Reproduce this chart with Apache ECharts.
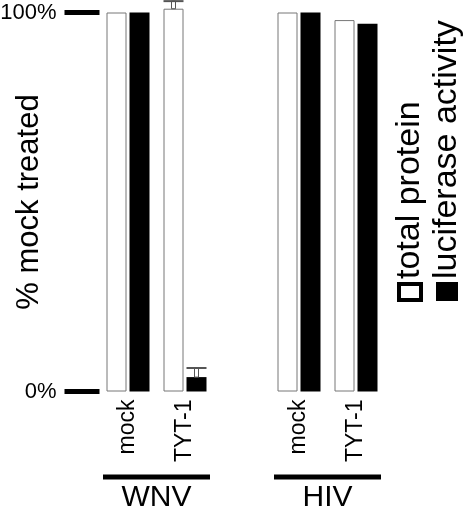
<!DOCTYPE html>
<html><head><meta charset="utf-8">
<script src="https://cdn.jsdelivr.net/npm/echarts@6/dist/echarts.min.js"></script>
<style>html,body{margin:0;padding:0;background:#fff}#c{width:466px;height:512px}</style>
</head><body><div id="c"></div>
<script>
// ---- data ----
var categories = ['mock', 'TYT-1', '', 'mock', 'TYT-1'];
var groupNames = ['WNV', 'HIV'];
var groupMembers = [[0, 1], [3, 4]];
var seriesNames = ['total protein', 'luciferase activity'];
var totalProtein = [100, 101, null, 100, 98];
var luciferase = [100, 3.8, null, 100, 97];
var totalProteinErrTop = [null, 103, null, null, null];
var luciferaseErrTop = [null, 6.2, null, null, null];
var yTickLabels = {0: '0%', 100: '100%'};
var yTitle = '% mock treated';

var FONT = 'Liberation Sans, Arial, Helvetica, sans-serif';
var BAR_W = 20, BAR_GAP = 3;

var chart = echarts.init(document.getElementById('c'), null, {renderer: 'canvas'});

function errSeries(errData, valData, side, col) {
  return {
    type: 'custom',
    clip: false,
    z: 5,
    data: errData.map(function (e, i) { return e == null ? null : [i, valData[i], e]; }).filter(function (d) { return d; }),
    renderItem: function (params, api) {
      var x = api.value(0);
      var pBar = api.coord([x, api.value(1)]);
      var pTop = api.coord([x, api.value(2)]);
      var cx = pBar[0] + side * (BAR_W + BAR_GAP) / 2;
      return {
        type: 'group',
        children: [
          {type: 'rect', shape: {x: cx - 2, y: pTop[1], width: 4, height: pBar[1] - pTop[1]},
           style: {fill: '#fff', stroke: col, lineWidth: 1}},
          {type: 'rect', shape: {x: cx - BAR_W / 2, y: pTop[1] - 1, width: BAR_W, height: 2},
           style: {fill: col}}
        ]
      };
    }
  };
}

var option = {
  animation: false,
  backgroundColor: '#fff',
  grid: {left: 99.5, top: 12.5, width: 285, height: 379, containLabel: false, outerBoundsMode: 'none'},
  xAxis: {
    type: 'category',
    data: categories,
    axisLine: {show: false},
    axisTick: {show: false},
    axisLabel: {rotate: 90, margin: 8, fontSize: 23, color: '#000', fontFamily: FONT}
  },
  yAxis: {
    type: 'value',
    min: 0, max: 100, interval: 100,
    splitLine: {show: false},
    axisLine: {show: false},
    axisTick: {show: true, length: 35, lineStyle: {color: '#000', width: 5}},
    axisLabel: {margin: 43, fontSize: 22, color: '#000', fontFamily: FONT,
      formatter: function (v) { return yTickLabels[v] || ''; }},
    name: yTitle,
    nameLocation: 'middle',
    nameRotate: 90,
    nameGap: 55,
    nameMoveOverlap: false,
    nameTextStyle: {fontSize: 31, color: '#000', fontFamily: FONT}
  },
  series: [
    {name: seriesNames[0], type: 'bar', data: totalProtein, barWidth: BAR_W, barGap: (BAR_GAP / BAR_W * 100) + '%',
     clip: false, itemStyle: {color: '#fff', borderColor: '#777', borderWidth: 1}},
    {name: seriesNames[1], type: 'bar', data: luciferase, barWidth: BAR_W,
     clip: false, itemStyle: {color: '#000'}},
    errSeries(totalProteinErrTop, totalProtein, -1, '#555'),
    errSeries(luciferaseErrTop, luciferase, 1, '#555')
  ]
};
chart.setOption(option);

// group brackets and legend
var graphics = [];
groupMembers.forEach(function (m, gi) {
  var a = chart.convertToPixel({xAxisIndex: 0}, m[0]);
  var b = chart.convertToPixel({xAxisIndex: 0}, m[m.length - 1]);
  var half = 57 / 2;
  var x0 = a - half + 3.5, x1 = b + half - 3.5;
  graphics.push({type: 'rect', shape: {x: x0, y: 474.5, width: x1 - x0, height: 5}, style: {fill: '#000'}});
  graphics.push({type: 'text', x: (x0 + x1) / 2, y: 498,
    style: {text: groupNames[gi], fontSize: 30, fontFamily: FONT, fill: '#000', align: 'center', verticalAlign: 'middle'}});
});
// legend
var legendX = [410, 447];
seriesNames.forEach(function (n, i) {
  if (i === 0) {
    graphics.push({type: 'rect', shape: {x: 399, y: 284, width: 22, height: 16}, style: {fill: '#fff', stroke: '#000', lineWidth: 4}});
  } else {
    graphics.push({type: 'rect', shape: {x: 436, y: 282, width: 22, height: 19}, style: {fill: '#000'}});
  }
  graphics.push({type: 'text', x: legendX[i], y: 279, rotation: Math.PI / 2,
    style: {text: n, fontSize: 34, fontFamily: FONT, fill: '#000', align: 'left', verticalAlign: 'middle'}});
});
chart.setOption({graphic: graphics});
</script>
</body></html>
